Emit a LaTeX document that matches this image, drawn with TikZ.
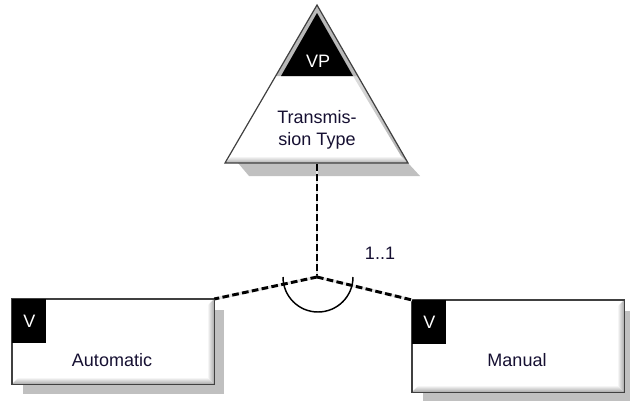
\documentclass[tikz,border=0pt]{standalone}
\usepackage{fontspec}
\setmainfont{Liberation Sans}
\usetikzlibrary{shadows}

\definecolor{txtdark}{RGB}{22,16,50}
\definecolor{shadowgray}{RGB}{192,192,192}

\begin{document}
\begin{tikzpicture}[x=0.75pt, y=-0.75pt,
    every node/.style={font=\fontsize{13.5}{16.3}\selectfont, text=txtdark},
    variant/.style={rectangle, draw=black!75, fill=white, line width=0.9pt,
                    inner sep=0pt, anchor=north west,
                    drop shadow={shadow xshift=7.5pt, shadow yshift=-7.5pt,
                                 fill=shadowgray, opacity=1}},
    tag/.style={rectangle, fill=black, text=white, inner sep=0pt,
                minimum width=25.5pt, minimum height=33pt, anchor=north west},
    connector/.style={draw=black, line width=2.2pt, dash pattern=on 5pt off 2.5pt,
                      preaction={draw=gray!20, line width=2.2pt}},
    edge line/.style={draw=black!75, line width=0.9pt}
]
\useasboundingbox (0,0) rectangle (630,400);

% variation point triangle
\fill[shadowgray] (238,163) -- (408,163) -- (420,176) -- (249,176) -- cycle;
\coordinate (vpbase) at (317,164);
\coordinate (jn) at (317,277);
\draw[connector] (vpbase) -- (jn);
\fill[white] (317,5) -- (408,163) -- (225,163) -- cycle;
\shade[top color=white, bottom color=gray!65]
    (225,163) -- (408,163) -- (401,156) -- (232,156) -- cycle;
\shade[left color=white, right color=gray!65]
    (317,5) -- (408,163) -- (401,156) -- (317,16) -- cycle;
\fill[gray!55] (317,5) -- (358,76) -- (276,76) -- cycle;
\fill[black] (317,13) -- (353,76) -- (281,76) -- cycle;
\draw[edge line] (317,5) -- (408,163) -- (225,163) -- cycle;
\node (vptag) at (318,61) [text=white] {VP};
\node[align=center] (vpname) at (317,130) {Transmis-\\sion Type};

% variants
\node[variant, minimum width=150.75pt, minimum height=63pt] (auto) at (12,299) {};
\node[variant, minimum width=158.25pt, minimum height=68.25pt] (man) at (412,300) {};
\foreach \b in {auto,man}{
  \shade[top color=white, bottom color=gray!70]
      (\b.south west) -- (\b.south east) -- ([shift={(-7,-7)}]\b.south east)
      -- ([shift={(7,-7)}]\b.south west) -- cycle;
  \shade[left color=white, right color=gray!70]
      (\b.south east) -- (\b.north east) -- ([shift={(-7,7)}]\b.north east)
      -- ([shift={(-7,-7)}]\b.south east) -- cycle;
  \draw[edge line] (\b.south west) rectangle (\b.north east);
}
\node[tag] (autotag) at (auto.north west) {V};
\node[tag] (mantag) at (man.north west) {V};
\node (autoname) at (112,360) {Automatic};
\node (manname) at (517,360) {Manual};

% alternative group
\draw[connector] (jn) -- (auto.north east);
\draw[connector] (jn) -- (man.north west);
\draw[black, line width=1.1pt] (283,277) arc[start angle=180, end angle=0, radius=35];
\node (card) at (380,253) {1..1};
\end{tikzpicture}
\end{document}
